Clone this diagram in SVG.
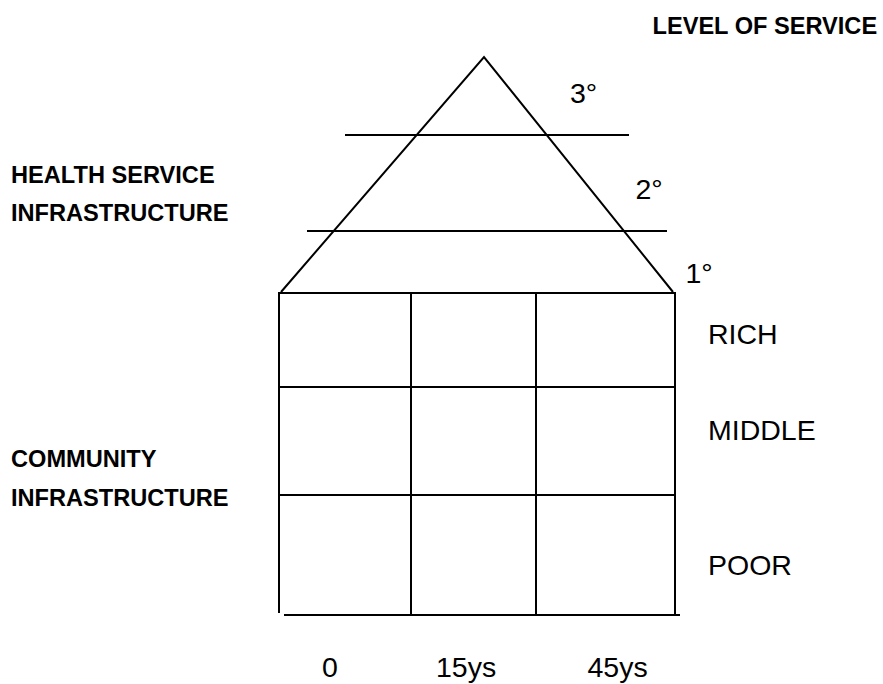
<svg xmlns="http://www.w3.org/2000/svg" width="883" height="684" viewBox="0 0 883 684">
<style>
.ln{stroke:#000;stroke-width:2;fill:none;stroke-linecap:butt}
.b{font-family:"Liberation Sans",Arial,sans-serif;font-weight:bold;font-size:23.6px;fill:#000}
.r{font-family:"Liberation Sans",Arial,sans-serif;font-size:28.5px;fill:#000}
</style>
<rect width="883" height="684" fill="#fff"/>
<g id="pyramid">
<polyline class="ln" points="281,292 484,57 673,292"/>
<line class="ln" x1="345" y1="135" x2="629" y2="135"/>
<line class="ln" x1="307" y1="231" x2="667" y2="231"/>
</g>
<g id="grid">
<line class="ln" x1="279" y1="293" x2="676" y2="293"/>
<line class="ln" x1="279" y1="387" x2="675" y2="387"/>
<line class="ln" x1="279" y1="495" x2="675" y2="495"/>
<line class="ln" x1="284" y1="615" x2="680" y2="615"/>
<line class="ln" x1="279" y1="292" x2="279" y2="613"/>
<line class="ln" x1="411" y1="293" x2="411" y2="615"/>
<line class="ln" x1="536" y1="293" x2="536" y2="615"/>
<line class="ln" x1="675" y1="292" x2="675" y2="615"/>
</g>
<g id="labels">
<text class="b" x="652.5" y="34">LEVEL OF SERVICE</text>
<text class="b" x="11" y="183">HEALTH SERVICE</text>
<text class="b" x="11" y="220.5">INFRASTRUCTURE</text>
<text class="b" x="11" y="467">COMMUNITY</text>
<text class="b" x="11" y="506">INFRASTRUCTURE</text>
<text class="r" x="570" y="103">3°</text>
<text class="r" x="635.5" y="199">2°</text>
<text class="r" x="685.5" y="283">1°</text>
<text class="r" x="708" y="344">RICH</text>
<text class="r" x="708" y="440">MIDDLE</text>
<text class="r" x="708" y="575">POOR</text>
<text class="r" x="322" y="677">0</text>
<text class="r" x="436" y="677">15ys</text>
<text class="r" x="587.5" y="677">45ys</text>
</g>
</svg>
